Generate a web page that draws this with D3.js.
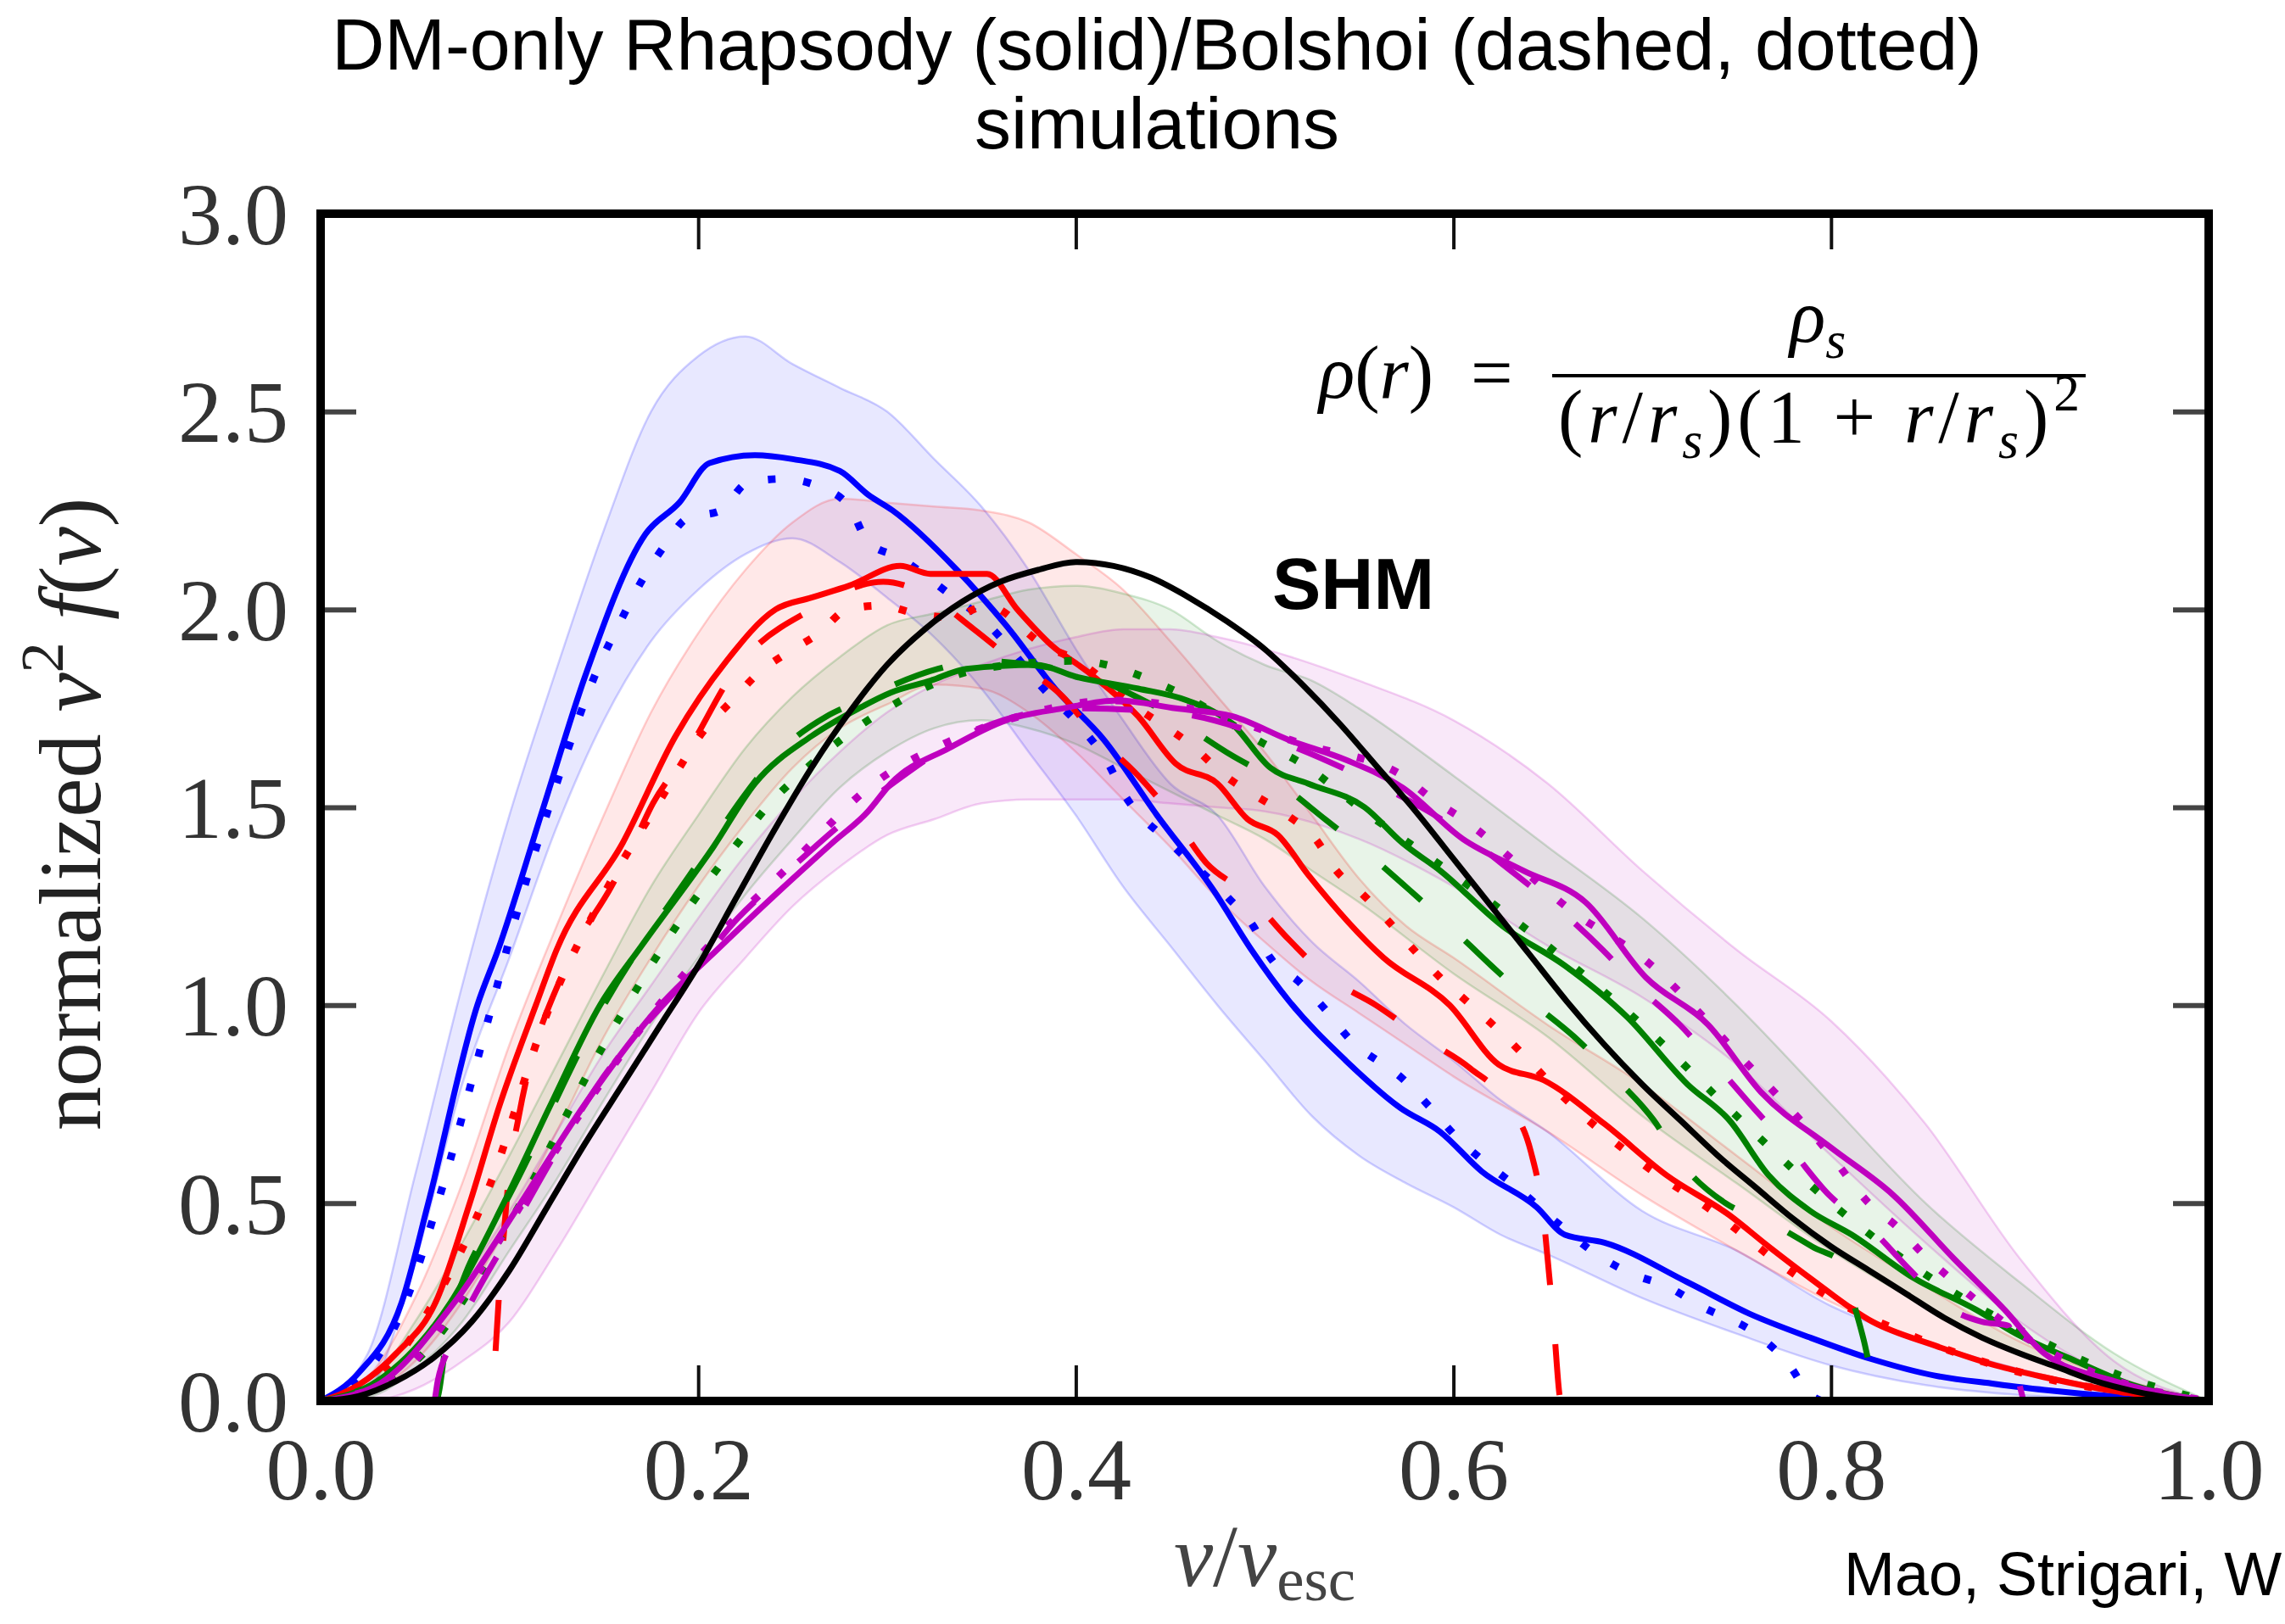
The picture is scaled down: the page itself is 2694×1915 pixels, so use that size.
<!DOCTYPE html>
<html>
<head>
<meta charset="utf-8">
<script src="https://cdn.jsdelivr.net/npm/d3@7"></script>
<style>
  body { margin: 0; background: #fff; }
  svg { display: block; }
  .axis .domain { display: none; }
  .axis text { font-family: 'Liberation Serif', 'Times New Roman', serif; font-size: 104px; fill: #333; }
</style>
</head>
<body>
<svg id="chart" width="2694" height="1915"></svg>
<script>
// ---- data: [v/v_esc, normalized v^2 f(v)] ----
const xTicks = [0, 0.2, 0.4, 0.6, 0.8, 1.0]
const yTicks = [0, 0.5, 1.0, 1.5, 2.0, 2.5, 3.0]

const blueSolid = [[0,0],[0.02,0.07],[0.043,0.25],[0.057,0.5],[0.083,1.0],[0.094,1.14],[0.118,1.5],[0.14,1.83],[0.172,2.19],[0.19,2.27],[0.206,2.37],[0.23,2.39],[0.25,2.38],[0.275,2.35],[0.29,2.29],[0.303,2.25],[0.337,2.10],[0.363,1.96],[0.389,1.80],[0.415,1.67],[0.443,1.48],[0.473,1.29],[0.493,1.14],[0.513,1.01],[0.543,0.86],[0.572,0.74],[0.593,0.68],[0.615,0.58],[0.644,0.49],[0.659,0.42],[0.68,0.40],[0.724,0.30],[0.757,0.22],[0.789,0.16],[0.822,0.105],[0.855,0.064],[0.887,0.043],[0.913,0.028],[0.95,0.012],[1,0]]
const blueDotted = [[0,0],[0.02,0.05],[0.045,0.25],[0.062,0.5],[0.088,0.95],[0.102,1.2],[0.125,1.56],[0.145,1.83],[0.162,2.0],[0.171,2.08],[0.182,2.16],[0.194,2.23],[0.212,2.25],[0.226,2.32],[0.245,2.33],[0.264,2.31],[0.28,2.26],[0.29,2.17],[0.307,2.13],[0.33,2.05],[0.354,1.96],[0.367,1.89],[0.379,1.82],[0.405,1.69],[0.416,1.62],[0.426,1.53],[0.45,1.41],[0.481,1.27],[0.494,1.2],[0.503,1.12],[0.518,1.06],[0.532,0.99],[0.544,0.92],[0.574,0.81],[0.588,0.74],[0.601,0.67],[0.615,0.61],[0.631,0.55],[0.655,0.45],[0.676,0.37],[0.695,0.32],[0.713,0.29],[0.731,0.24],[0.763,0.16],[0.778,0.09],[0.788,0.02],[0.795,0]]

const redSolid = [[0,0],[0.02,0.04],[0.04,0.12],[0.061,0.25],[0.079,0.5],[0.095,0.75],[0.114,1.0],[0.125,1.14],[0.16,1.41],[0.188,1.68],[0.215,1.87],[0.241,2.0],[0.26,2.03],[0.28,2.06],[0.307,2.11],[0.323,2.09],[0.353,2.09],[0.369,2.0],[0.387,1.91],[0.407,1.84],[0.433,1.73],[0.453,1.61],[0.475,1.56],[0.491,1.47],[0.507,1.43],[0.523,1.33],[0.563,1.12],[0.598,1.0],[0.624,0.85],[0.648,0.81],[0.68,0.70],[0.713,0.57],[0.746,0.47],[0.767,0.39],[0.789,0.31],[0.822,0.20],[0.855,0.14],[0.887,0.09],[0.913,0.06],[0.95,0.025],[1,0]]
const redDotted = [[0,0],[0.03,0.06],[0.06,0.25],[0.09,0.55],[0.12,0.98],[0.15,1.28],[0.18,1.52],[0.204,1.70],[0.218,1.77],[0.232,1.84],[0.247,1.89],[0.264,1.94],[0.279,2.0],[0.297,2.01],[0.315,1.99],[0.334,1.98],[0.353,2.01],[0.383,1.91],[0.401,1.87],[0.43,1.76],[0.463,1.65],[0.479,1.58],[0.495,1.53],[0.512,1.48],[0.527,1.42],[0.538,1.34],[0.552,1.28],[0.566,1.21],[0.579,1.14],[0.593,1.07],[0.607,1.01],[0.621,0.95],[0.636,0.88],[0.66,0.76],[0.7,0.60],[0.74,0.47],[0.772,0.35],[0.8,0.26],[0.84,0.17],[0.88,0.10],[0.92,0.05],[0.96,0.02],[1,0]]
const redDashed = [[0,0],[0.09,0],[0.095,0.3],[0.1,0.58],[0.105,0.72],[0.13,1.1],[0.154,1.30],[0.164,1.39],[0.176,1.51],[0.193,1.63],[0.22,1.85],[0.26,2.0],[0.298,2.07],[0.32,2.04],[0.346,1.95],[0.367,1.87],[0.393,1.78],[0.409,1.69],[0.433,1.58],[0.451,1.48],[0.469,1.36],[0.491,1.28],[0.512,1.17],[0.534,1.07],[0.559,1.0],[0.583,0.92],[0.609,0.84],[0.629,0.75],[0.641,0.63],[0.647,0.49],[0.653,0.2],[0.657,0],[1,0]]

const greenSolid = [[0,0],[0.03,0.05],[0.069,0.25],[0.097,0.5],[0.122,0.75],[0.148,1.0],[0.17,1.15],[0.208,1.40],[0.23,1.56],[0.26,1.68],[0.285,1.75],[0.302,1.79],[0.323,1.82],[0.342,1.85],[0.379,1.86],[0.40,1.83],[0.433,1.80],[0.459,1.77],[0.483,1.71],[0.503,1.60],[0.523,1.56],[0.553,1.50],[0.573,1.41],[0.593,1.34],[0.626,1.20],[0.659,1.10],[0.692,0.97],[0.724,0.80],[0.746,0.71],[0.767,0.57],[0.789,0.48],[0.811,0.42],[0.844,0.31],[0.877,0.23],[0.898,0.17],[0.93,0.10],[0.96,0.04],[1,0]]
const greenDotted = [[0,0],[0.05,0.1],[0.1,0.45],[0.15,0.9],[0.2,1.28],[0.226,1.44],[0.238,1.51],[0.253,1.58],[0.3,1.75],[0.35,1.85],[0.4,1.87],[0.45,1.80],[0.5,1.66],[0.52,1.61],[0.55,1.50],[0.6,1.33],[0.631,1.22],[0.7,0.95],[0.75,0.72],[0.8,0.50],[0.85,0.32],[0.9,0.18],[0.95,0.07],[1,0]]
const greenDashed = [[0,0],[0.061,0],[0.068,0.2],[0.075,0.3],[0.1,0.52],[0.15,1.0],[0.2,1.36],[0.226,1.54],[0.241,1.63],[0.268,1.73],[0.281,1.76],[0.327,1.85],[0.347,1.87],[0.4,1.84],[0.44,1.76],[0.483,1.63],[0.505,1.57],[0.532,1.47],[0.553,1.39],[0.577,1.29],[0.598,1.20],[0.62,1.10],[0.641,1.01],[0.664,0.92],[0.685,0.82],[0.706,0.71],[0.721,0.60],[0.744,0.50],[0.768,0.45],[0.79,0.39],[0.808,0.34],[0.811,0.27],[0.818,0.14],[0.824,0]]

const magentaSolid = [[0,0],[0.03,0.04],[0.071,0.25],[0.106,0.5],[0.14,0.75],[0.18,1.0],[0.21,1.14],[0.241,1.28],[0.271,1.41],[0.29,1.49],[0.302,1.56],[0.333,1.65],[0.363,1.72],[0.393,1.75],[0.422,1.77],[0.453,1.75],[0.483,1.73],[0.513,1.67],[0.543,1.62],[0.573,1.55],[0.605,1.42],[0.637,1.34],[0.67,1.26],[0.702,1.07],[0.735,0.95],[0.763,0.78],[0.80,0.64],[0.833,0.52],[0.865,0.36],[0.892,0.23],[0.913,0.12],[0.95,0.05],[1,0]]
const magentaDotted = [[0,0],[0.04,0.06],[0.08,0.3],[0.12,0.6],[0.16,0.88],[0.2,1.12],[0.25,1.36],[0.293,1.56],[0.33,1.66],[0.37,1.73],[0.42,1.77],[0.47,1.74],[0.52,1.66],[0.573,1.58],[0.589,1.52],[0.605,1.47],[0.665,1.23],[0.7,1.12],[0.75,0.88],[0.8,0.62],[0.82,0.50],[0.835,0.44],[0.849,0.37],[0.863,0.31],[0.878,0.25],[0.9,0.17],[0.94,0.07],[1,0]]
const magentaDashed = [[0,0],[0.06,0],[0.062,0.05],[0.071,0.16],[0.1,0.42],[0.15,0.82],[0.2,1.1],[0.221,1.22],[0.241,1.31],[0.3,1.55],[0.35,1.70],[0.4,1.75],[0.45,1.74],[0.5,1.68],[0.55,1.58],[0.6,1.45],[0.633,1.33],[0.654,1.25],[0.679,1.14],[0.697,1.05],[0.72,0.95],[0.739,0.85],[0.759,0.74],[0.778,0.64],[0.799,0.52],[0.82,0.44],[0.842,0.33],[0.861,0.24],[0.88,0.2],[0.894,0.19],[0.898,0.08],[0.902,0]]

const shm = [[0,0],[0.02,0.012],[0.04,0.05],[0.06,0.11],[0.08,0.2],[0.1,0.33],[0.12,0.49],[0.14,0.65],[0.16,0.8],[0.18,0.95],[0.2,1.1],[0.22,1.27],[0.24,1.44],[0.26,1.6],[0.28,1.74],[0.3,1.86],[0.32,1.95],[0.34,2.02],[0.36,2.07],[0.38,2.1],[0.4,2.12],[0.42,2.11],[0.44,2.08],[0.46,2.03],[0.48,1.97],[0.5,1.9],[0.52,1.81],[0.54,1.71],[0.56,1.6],[0.58,1.49],[0.6,1.37],[0.62,1.25],[0.64,1.13],[0.66,1.01],[0.68,0.9],[0.7,0.8],[0.72,0.71],[0.74,0.62],[0.76,0.54],[0.78,0.46],[0.8,0.39],[0.82,0.33],[0.84,0.27],[0.86,0.21],[0.88,0.16],[0.9,0.12],[0.92,0.085],[0.94,0.05],[0.96,0.025],[0.98,0.008],[1,0]]

// scatter bands: [v, low, high]
const blueBand = [[0,0,0],[0.025,0.03,0.12],[0.05,0.35,0.57],[0.075,0.8,1.05],[0.1,1.12,1.48],[0.125,1.45,1.85],[0.15,1.72,2.2],[0.175,1.92,2.5],[0.2,2.05,2.64],[0.225,2.14,2.69],[0.25,2.18,2.62],[0.275,2.12,2.56],[0.3,2.03,2.5],[0.325,1.93,2.38],[0.35,1.8,2.26],[0.375,1.64,2.1],[0.4,1.48,1.9],[0.425,1.3,1.72],[0.45,1.15,1.56],[0.475,1.0,1.48],[0.5,0.86,1.3],[0.525,0.72,1.16],[0.55,0.62,1.06],[0.575,0.55,0.95],[0.6,0.49,0.86],[0.625,0.42,0.76],[0.65,0.37,0.68],[0.7,0.26,0.48],[0.75,0.17,0.38],[0.8,0.09,0.24],[0.85,0.04,0.15],[0.9,0.015,0.08],[0.95,0.004,0.03],[1,0,0]]
const redBand = [[0,0,0],[0.025,0.02,0.06],[0.05,0.1,0.26],[0.075,0.25,0.55],[0.1,0.45,0.9],[0.125,0.68,1.2],[0.15,0.92,1.48],[0.175,1.12,1.74],[0.2,1.3,1.94],[0.225,1.46,2.1],[0.25,1.6,2.22],[0.275,1.7,2.28],[0.3,1.76,2.27],[0.325,1.81,2.26],[0.35,1.8,2.25],[0.375,1.74,2.22],[0.4,1.64,2.14],[0.425,1.52,2.05],[0.45,1.4,1.92],[0.475,1.27,1.78],[0.5,1.16,1.64],[0.525,1.06,1.48],[0.55,0.98,1.32],[0.575,0.9,1.2],[0.6,0.82,1.12],[0.65,0.68,0.95],[0.7,0.52,0.8],[0.75,0.38,0.62],[0.8,0.25,0.44],[0.85,0.15,0.29],[0.9,0.08,0.15],[0.95,0.03,0.06],[1,0,0]]
const greenBand = [[0,0,0],[0.025,0.01,0.04],[0.05,0.08,0.2],[0.075,0.2,0.4],[0.1,0.38,0.62],[0.125,0.56,0.85],[0.15,0.76,1.08],[0.175,0.95,1.3],[0.2,1.12,1.48],[0.225,1.28,1.65],[0.25,1.42,1.78],[0.275,1.55,1.88],[0.3,1.64,1.96],[0.325,1.7,1.99],[0.35,1.72,2.02],[0.375,1.7,2.05],[0.4,1.66,2.06],[0.425,1.6,2.04],[0.45,1.54,2.0],[0.475,1.48,1.92],[0.5,1.42,1.86],[0.525,1.34,1.82],[0.55,1.26,1.75],[0.6,1.08,1.58],[0.65,0.92,1.4],[0.7,0.72,1.22],[0.75,0.55,1.0],[0.8,0.38,0.75],[0.85,0.24,0.5],[0.9,0.12,0.3],[0.95,0.04,0.12],[1,0,0]]
const magentaBand = [[0,0,0],[0.025,0,0.03],[0.05,0.03,0.12],[0.075,0.1,0.3],[0.1,0.2,0.48],[0.125,0.38,0.68],[0.15,0.58,0.88],[0.175,0.78,1.05],[0.2,0.98,1.22],[0.225,1.12,1.38],[0.25,1.25,1.52],[0.275,1.35,1.64],[0.3,1.43,1.74],[0.325,1.47,1.81],[0.35,1.51,1.86],[0.375,1.52,1.9],[0.4,1.52,1.93],[0.425,1.52,1.95],[0.45,1.51,1.95],[0.475,1.5,1.93],[0.5,1.49,1.9],[0.55,1.42,1.82],[0.6,1.3,1.72],[0.65,1.15,1.56],[0.7,1.02,1.34],[0.75,0.85,1.14],[0.8,0.62,0.96],[0.85,0.4,0.7],[0.9,0.2,0.36],[0.95,0.06,0.1],[1,0,0]]

function main() {
    let svg = d3.select('#chart'),
        margin = {top: 252, left: 378, right: 90, bottom: 263},
        width = 2694 - margin.left - margin.right,
        height = 1915 - margin.top - margin.bottom

    let xScale = d3.scaleLinear().domain([0, 1]).range([margin.left, margin.left + width]),
        yScale = d3.scaleLinear().domain([0, 3]).range([margin.top + height, margin.top])

    svg.append('clipPath').attr('id', 'plot-clip')
        .append('rect')
        .attr('x', margin.left).attr('y', margin.top)
        .attr('width', width).attr('height', height)

    let plot = svg.append('g').attr('clip-path', 'url(#plot-clip)')

    let line = d3.line().x(d => xScale(d[0])).y(d => yScale(d[1])).curve(d3.curveMonotoneX)
    let area = d3.area().x(d => xScale(d[0])).y0(d => yScale(d[1])).y1(d => yScale(d[2])).curve(d3.curveMonotoneX)

    // shaded scatter bands
    let bands = [[blueBand, '#0000ff'], [redBand, '#ff0000'], [greenBand, '#008000'], [magentaBand, '#bf00bf']]
    bands.forEach(b => {
        plot.append('path').datum(b[0])
            .attr('d', area)
            .attr('fill', b[1]).attr('fill-opacity', 0.09)
            .attr('stroke', b[1]).attr('stroke-opacity', 0.18).attr('stroke-width', 2.5)
    })

    let series = [
        [blueSolid, '#0000ff', null], [blueDotted, '#0000ff', '9,33'],
        [redSolid, '#ff0000', null], [redDotted, '#ff0000', '9,33'], [redDashed, '#ff0000', '60,70'],
        [greenSolid, '#008000', null], [greenDotted, '#008000', '9,33'], [greenDashed, '#008000', '60,70'],
        [magentaSolid, '#bf00bf', null], [magentaDotted, '#bf00bf', '9,33'], [magentaDashed, '#bf00bf', '60,70'],
        [shm, '#000000', null]
    ]
    series.forEach(s => {
        plot.append('path').datum(s[0])
            .attr('d', line)
            .attr('fill', 'none')
            .attr('stroke', s[1])
            .attr('stroke-width', s[2] === '9,33' ? 9 : 7)
            .attr('stroke-dasharray', s[2])
            .attr('stroke-linejoin', 'round')
    })

    // axes, ticks pointing inward
    let fmt = d3.format('.1f')
    svg.append('g').attr('class', 'axis')
        .attr('transform', 'translate(0,' + (margin.top + height) + ')')
        .call(d3.axisBottom(xScale).tickValues(xTicks).tickFormat(fmt).tickSize(-42).tickPadding(42))
    svg.append('g').attr('class', 'axis')
        .attr('transform', 'translate(0,' + margin.top + ')')
        .call(d3.axisTop(xScale).tickValues(xTicks).tickFormat('').tickSize(-42))
    svg.append('g').attr('class', 'axis yaxis')
        .attr('transform', 'translate(' + margin.left + ',0)')
        .call(d3.axisLeft(yScale).tickValues(yTicks).tickFormat(fmt).tickSize(-42).tickPadding(38))
    svg.append('g').attr('class', 'axis yaxis')
        .attr('transform', 'translate(' + (margin.left + width) + ',0)')
        .call(d3.axisRight(yScale).tickValues(yTicks).tickFormat('').tickSize(-42))

    svg.selectAll('.axis .tick line').attr('stroke', '#111').attr('stroke-width', 4)
    svg.selectAll('.yaxis .tick line').attr('stroke', '#444').attr('stroke-width', 6)
    svg.selectAll('.yaxis .tick text').attr('dy', '0.34em')

    svg.append('rect')
        .attr('x', margin.left).attr('y', margin.top)
        .attr('width', width).attr('height', height)
        .attr('fill', 'none').attr('stroke', '#000').attr('stroke-width', 10)

    // math-ish text helper
    function addMath(parent, x, y, size, parts, anchor, subShift) {
        let t = parent.append('text')
            .attr('x', x).attr('y', y)
            .attr('font-family', "'Liberation Serif', 'Times New Roman', serif")
            .attr('font-size', size)
            .attr('text-anchor', anchor || 'start')
        let shift = 0
        parts.forEach(p => {
            let s = p.sub ? size * (subShift || 0.22) : p.sup ? -size * 0.42 : 0
            t.append('tspan')
                .attr('dy', s - shift)
                .attr('font-style', p.i ? 'italic' : 'normal')
                .attr('font-size', p.sub || p.sup ? size * 0.7 : size)
                .text(p.t)
            shift = s
        })
        return t
    }

    // axis labels
    addMath(svg, xScale(0.5), 1870, 104, [
        {t: 'v', i: true}, {t: '/'}, {t: 'v', i: true}, {t: 'esc', sub: true}
    ], 'middle', 0.16).attr('fill', '#444')

    let yl = svg.append('g').attr('transform', 'translate(118,960) rotate(-90)')
    addMath(yl, 0, 0, 104, [
        {t: 'normalized\u00a0'}, {t: 'v', i: true}, {t: '2', sup: true}, {t: '\u00a0'},
        {t: 'f', i: true}, {t: '('}, {t: 'v', i: true}, {t: ')'}
    ], 'middle').attr('fill', '#222')

    // NFW profile formula
    addMath(svg, 1555, 469, 88, [
        {t: 'ρ', i: true}, {t: '('}, {t: 'r', i: true}, {t: ')\u00a0\u00a0=\u00a0'}
    ])
    addMath(svg, 2143, 403, 88, [
        {t: 'ρ', i: true}, {t: 's', i: true, sub: true}
    ], 'middle')
    svg.append('line')
        .attr('x1', 1830).attr('x2', 2459).attr('y1', 443).attr('y2', 443)
        .attr('stroke', '#000').attr('stroke-width', 4)
    addMath(svg, 1837, 521, 88, [
        {t: '('}, {t: 'r', i: true}, {t: '/'}, {t: 'r', i: true}, {t: 's', i: true, sub: true},
        {t: ')(1\u00a0+\u00a0'}, {t: 'r', i: true}, {t: '/'}, {t: 'r', i: true}, {t: 's', i: true, sub: true},
        {t: ')'}, {t: '2', sup: true}
    ]).attr('textLength', 615).attr('lengthAdjust', 'spacing')

    // annotations
    svg.append('text')
        .attr('x', 1500).attr('y', 718)
        .attr('font-family', "'Liberation Sans', Arial, sans-serif")
        .attr('font-weight', 'bold').attr('font-size', 86)
        .text('SHM')

    let title = ['DM-only Rhapsody (solid)/Bolshoi (dashed, dotted)', 'simulations']
    svg.selectAll('.title')
        .data(title)
        .enter()
        .append('text')
        .attr('class', 'title')
        .attr('x', 1364)
        .attr('y', (d, i) => 82 + i * 93)
        .attr('text-anchor', 'middle')
        .attr('font-family', "'Liberation Sans', Arial, sans-serif")
        .attr('font-size', 86)
        .text(d => d)

    svg.append('text')
        .attr('x', 2174).attr('y', 1881)
        .attr('font-family', "'Liberation Sans', Arial, sans-serif")
        .attr('font-size', 72)
        .text('Mao, Strigari, W')
}

main()
</script>
</body>
</html>
